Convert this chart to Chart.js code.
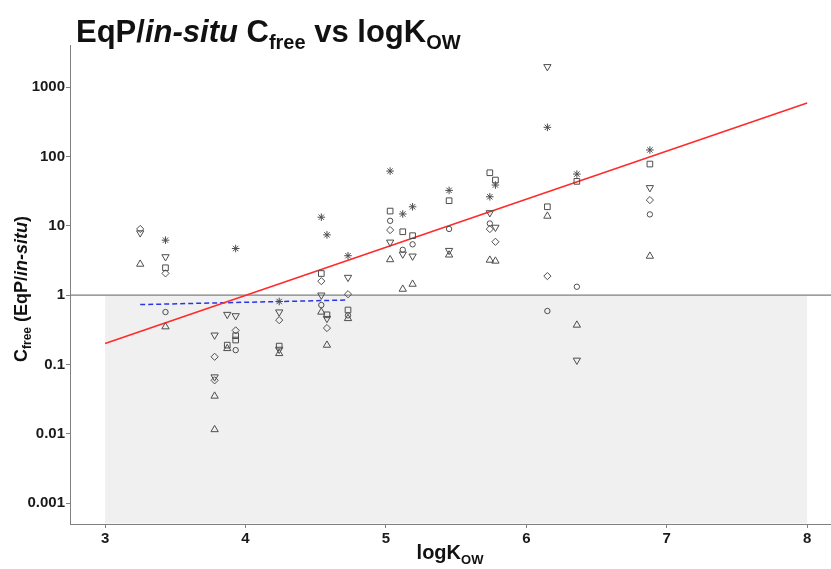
<!DOCTYPE html>
<html>
<head>
<meta charset="utf-8">
<script src="https://cdn.jsdelivr.net/npm/chart.js@4.4.0/dist/chart.umd.min.js"></script>
<style>
  html, body { margin: 0; padding: 0; background: #fff; }
</style>
</head>
<body>
<canvas id="chart" width="831" height="569"></canvas>
<script>
// logKow per compound and Cfree ratio (EqP / in-situ), one pair of arrays per marker group
const asteriskKow = [3.43, 3.93, 4.24, 4.54, 4.58, 4.73, 5.03, 5.12, 5.19, 5.45, 5.74, 5.78, 6.15, 6.36, 6.88];
const asteriskRatio = [6.2, 4.7, 0.81, 13.3, 7.4, 3.7, 61.5, 14.8, 18.8, 32.4, 26.2, 38.7, 263, 55.7, 124];

const squareKow = [3.43, 3.93, 3.93, 3.87, 4.24, 4.54, 4.58, 4.73, 5.03, 5.12, 5.19, 5.45, 5.74, 5.78, 6.15, 6.36, 6.88];
const squareRatio = [2.48, 0.26, 0.225, 0.19, 0.184, 2.05, 0.52, 0.61, 16.3, 8.2, 7.2, 23, 58.2, 45.7, 18.8, 43.7, 77.7];

const circleKow = [3.43, 3.93, 4.54, 4.73, 5.03, 5.12, 5.19, 5.45, 5.74, 6.15, 6.36, 6.88];
const circleRatio = [0.57, 0.161, 0.72, 0.51, 11.8, 4.5, 5.4, 9.0, 10.8, 0.59, 1.32, 14.6];

const diamondKow = [3.25, 3.43, 3.78, 3.78, 3.93, 4.24, 4.54, 4.58, 4.73, 5.03, 5.74, 5.78, 6.15, 6.88];
const diamondRatio = [9.0, 2.06, 0.129, 0.059, 0.31, 0.436, 1.59, 0.335, 1.03, 8.67, 8.97, 5.88, 1.88, 23.5];

const triUpKow = [3.25, 3.43, 3.78, 3.78, 3.87, 4.24, 4.54, 4.58, 4.73, 5.03, 5.12, 5.19, 5.45, 5.74, 5.78, 6.15, 6.36, 6.88];
const triUpRatio = [2.8, 0.35, 0.035, 0.0115, 0.17, 0.144, 0.57, 0.19, 0.46, 3.25, 1.22, 1.44, 3.8, 3.2, 3.1, 13.8, 0.37, 3.65];

const triDownKow = [3.25, 3.43, 3.78, 3.78, 3.87, 3.93, 4.24, 4.24, 4.54, 4.58, 4.73, 5.03, 5.12, 5.19, 5.45, 5.74, 5.78, 6.15, 6.36, 6.88];
const triDownRatio = [7.9, 3.57, 0.265, 0.066, 0.526, 0.503, 0.57, 0.165, 1.0, 0.46, 1.8, 5.8, 3.9, 3.65, 4.4, 15.4, 9.5, 1970, 0.115, 35.4];

// fitted trend lines
const fitKow = [3, 8];
const fitRatio = [0.2, 590];
const lowFitKow = [3.25, 4.73];
const lowFitRatio = [0.73, 0.85];

// axes
const xTicks = [3, 4, 5, 6, 7, 8];
const yTickValues = [0.001, 0.01, 0.1, 1, 10, 100, 1000];
const yTickLabels = ['0.001', '0.01', '0.1', '1', '10', '100', '1000'];
const shadeFrom = 3;
const shadeTo = 8;

const FONT = '"Liberation Sans", Arial, Helvetica, sans-serif';
const markerColor = '#4d4d4d';

const toPoints = (xs, ys) => xs.map((x, i) => ({ x, y: ys[i] }));

function markers(xs, ys, style, radius, rotation) {
  return {
    data: toPoints(xs, ys),
    pointStyle: style,
    pointRadius: radius,
    pointRotation: rotation || 0,
    pointBorderColor: markerColor,
    pointBackgroundColor: 'rgba(0,0,0,0)',
    pointBorderWidth: 1,
    showLine: false,
  };
}

// draw a sequence of text pieces with their own fonts and baseline shifts
function drawRuns(ctx, runs, x, y, align) {
  let total = 0;
  runs.forEach(r => { ctx.font = r.font; total += ctx.measureText(r.t).width; });
  let cx = align === 'center' ? x - total / 2 : x;
  ctx.textBaseline = 'alphabetic';
  ctx.textAlign = 'left';
  runs.forEach(r => {
    ctx.font = r.font;
    ctx.fillText(r.t, cx, y + (r.dy || 0));
    cx += ctx.measureText(r.t).width;
  });
}

const backdrop = {
  id: 'backdrop',
  beforeDatasetsDraw(chart) {
    const { ctx, chartArea: a, scales: { x, y } } = chart;
    const x0 = x.getPixelForValue(shadeFrom);
    const x1 = x.getPixelForValue(shadeTo);
    const y1 = y.getPixelForValue(1);
    ctx.save();
    ctx.fillStyle = '#f0f0f0';
    ctx.fillRect(x0, y1 + 1, x1 - x0, a.bottom - y1 - 1.5);
    ctx.strokeStyle = '#7c7c7c';
    ctx.lineWidth = 1.2;
    ctx.beginPath();
    ctx.moveTo(a.left, y1);
    ctx.lineTo(a.right, y1);
    ctx.stroke();
    ctx.restore();
  }
};

const labels = {
  id: 'labels',
  afterDraw(chart) {
    const { ctx } = chart;
    ctx.save();
    ctx.fillStyle = '#111';
    drawRuns(ctx, [
      { t: 'EqP/', font: `bold 31px ${FONT}` },
      { t: 'in-situ', font: `italic bold 31px ${FONT}` },
      { t: ' C', font: `bold 31px ${FONT}` },
      { t: 'free', font: `bold 20px ${FONT}`, dy: 7 },
      { t: ' vs logK', font: `bold 31px ${FONT}` },
      { t: 'OW', font: `bold 20px ${FONT}`, dy: 7 },
    ], 76, 42, 'left');

    drawRuns(ctx, [
      { t: 'logK', font: `bold 20px ${FONT}` },
      { t: 'OW', font: `bold 13px ${FONT}`, dy: 5 },
    ], 450, 559, 'center');

    ctx.translate(27, 289);
    ctx.rotate(-Math.PI / 2);
    drawRuns(ctx, [
      { t: 'C', font: `bold 18px ${FONT}` },
      { t: 'free', font: `bold 12px ${FONT}`, dy: 4 },
      { t: ' (EqP/', font: `bold 18px ${FONT}` },
      { t: 'in-situ', font: `italic bold 18px ${FONT}` },
      { t: ')', font: `bold 18px ${FONT}` },
    ], 0, 0, 'center');
    ctx.restore();
  }
};

new Chart(document.getElementById('chart'), {
  type: 'scatter',
  data: {
    datasets: [
      markers(asteriskKow, asteriskRatio, 'star', 3.8),
      markers(squareKow, squareRatio, 'rect', 4),
      markers(circleKow, circleRatio, 'circle', 2.7),
      markers(diamondKow, diamondRatio, 'rectRot', 3.6),
      markers(triUpKow, triUpRatio, 'triangle', 4.2),
      markers(triDownKow, triDownRatio, 'triangle', 4.2, 180),
      {
        data: toPoints(fitKow, fitRatio),
        showLine: true,
        borderColor: '#ff2a2a',
        borderWidth: 1.6,
        pointRadius: 0,
      },
      {
        data: toPoints(lowFitKow, lowFitRatio),
        showLine: true,
        borderColor: '#2b35e6',
        borderWidth: 1.5,
        borderDash: [5, 3],
        pointRadius: 0,
      },
    ],
  },
  options: {
    responsive: false,
    animation: false,
    devicePixelRatio: 1,
    layout: { autoPadding: false, padding: { top: 45, left: 0, right: 0, bottom: 0 } },
    plugins: {
      legend: { display: false },
      tooltip: { enabled: false },
    },
    scales: {
      x: {
        type: 'linear',
        min: 2.75,
        max: 8.17,
        afterFit: s => { s.height = 45; },
        afterBuildTicks: s => { s.ticks = xTicks.map(v => ({ value: v })); },
        ticks: {
          color: '#1a1a1a',
          font: { family: FONT, size: 15, weight: 'bold' },
          padding: 2,
          maxRotation: 0,
          autoSkip: false,
          callback: v => String(v),
        },
        grid: { drawOnChartArea: false, tickLength: 4, color: '#808080' },
        border: { color: '#808080', width: 1 },
      },
      y: {
        type: 'logarithmic',
        min: 0.0005,
        max: 4050,
        afterFit: s => { s.width = 70; },
        afterBuildTicks: s => { s.ticks = yTickValues.map(v => ({ value: v })); },
        ticks: {
          color: '#1a1a1a',
          font: { family: FONT, size: 15, weight: 'bold' },
          padding: 1,
          autoSkip: false,
          callback: (v, i) => yTickLabels[i],
        },
        grid: { drawOnChartArea: false, tickLength: 4, color: '#808080' },
        border: { color: '#808080', width: 1 },
      },
    },
  },
  plugins: [backdrop, labels],
});
</script>
</body>
</html>
